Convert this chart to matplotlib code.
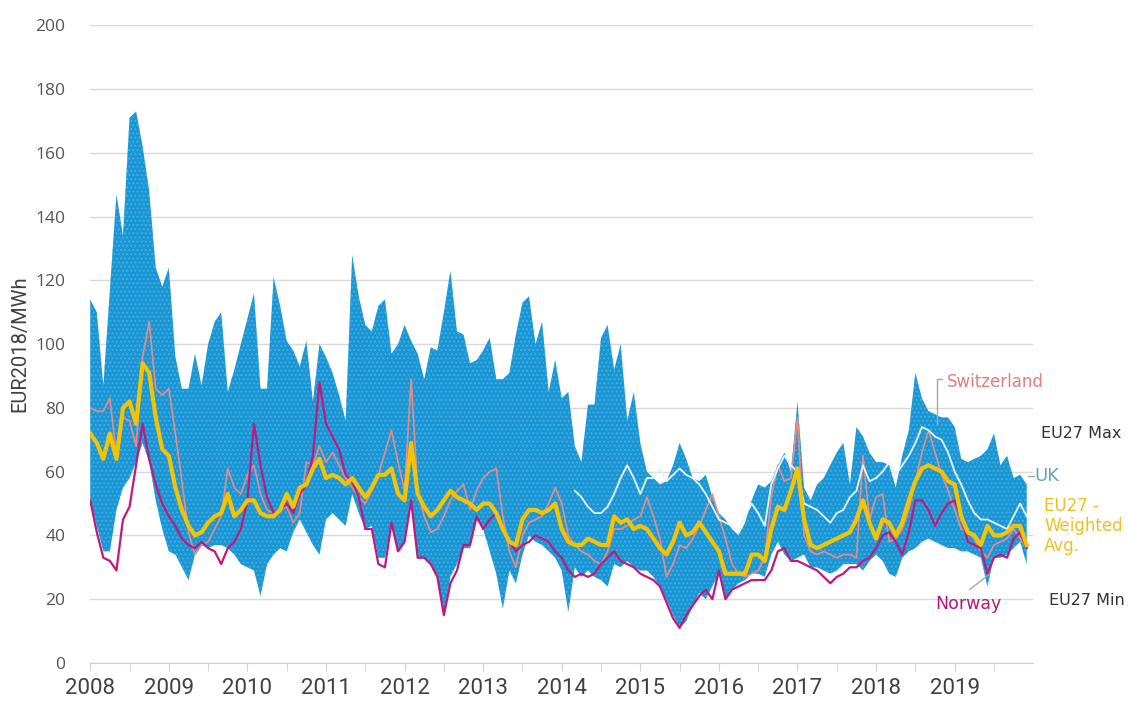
import numpy as np
import matplotlib
matplotlib.use("Agg")
import matplotlib.pyplot as plt
from matplotlib.ticker import MultipleLocator

years = [2008 + i for i in range(12)]
year_labels = [str(y) for y in years]

eu_max = [
    114, 110, 87, 117, 147, 134, 171, 173, 162, 148, 124, 118,
    124, 96, 86, 86, 97, 87, 100, 107, 110, 85, 92, 100,
    108, 116, 86, 86, 121, 112, 101, 98, 93, 101, 82, 100,
    96, 91, 84, 76, 128, 115, 106, 104, 112, 114, 97, 100,
    106, 101, 97, 89, 99, 98, 110, 123, 104, 103, 94, 95,
    98, 102, 89, 89, 91, 103, 113, 115, 100, 107, 85, 95,
    83, 85, 68, 63, 81, 81, 102, 106, 92, 100, 76, 85,
    69, 60, 58, 56, 57, 62, 69, 64, 58, 57, 59, 52,
    47, 45, 42, 40, 44, 51, 56, 55, 57, 62, 66, 60,
    82, 55, 51, 56, 58, 62, 66, 69, 56, 74, 71, 66,
    63, 63, 62, 55, 65, 73, 91, 83, 79, 78, 77, 77,
    74, 64, 63, 64, 65, 67, 72, 62, 65, 58, 59, 56,
]
eu_min = [
    51, 43, 35, 35, 48, 55, 58, 63, 69, 63, 51, 42,
    35, 34, 30, 26, 34, 37, 36, 37, 37, 36, 34, 31,
    30, 29, 21, 31, 34, 36, 35, 41, 45, 41, 37, 34,
    45, 47, 45, 43, 53, 47, 42, 43, 33, 33, 44, 35,
    38, 51, 33, 33, 31, 27, 15, 27, 31, 36, 36, 45,
    42, 35, 28, 17, 29, 25, 34, 40, 38, 37, 35, 33,
    29, 16, 30, 27, 29, 27, 26, 24, 31, 30, 32, 30,
    29, 29, 27, 24, 20, 15, 11, 13, 18, 22, 20, 24,
    28, 20, 23, 25, 26, 28, 28, 27, 34, 38, 34, 32,
    33, 34, 30, 30, 29, 28, 29, 31, 31, 31, 29, 32,
    34, 32, 28, 27, 33, 35, 36, 38, 39, 38, 37, 36,
    36, 35, 35, 34, 33, 24, 33, 33, 34, 36, 38, 31,
]
eu_avg = [
    72, 69, 64, 72, 64, 80, 82, 75, 94, 91, 77, 67,
    65, 55, 48, 43, 40, 41, 44, 46, 47, 53, 46, 48,
    51, 51, 47, 46, 46, 48, 53, 49, 55, 56, 61, 64,
    58, 59, 58, 56, 58, 55, 52, 55, 59, 59, 61, 53,
    51, 69, 53, 49, 46, 48, 51, 54, 52, 51, 50, 48,
    50, 50, 47, 42, 38, 37, 45, 48, 48, 47, 48, 50,
    42, 38, 37, 37, 39, 38, 37, 37, 46, 44, 45, 42,
    43, 42, 39, 36, 34, 38, 44, 40, 41, 44, 41, 38,
    35, 28, 28, 28, 28, 34, 34, 32, 42, 49, 48, 54,
    61, 45, 37, 36, 37, 38, 39, 40, 41, 45, 51, 44,
    39, 45, 44, 40, 44, 51, 57, 61, 62, 61, 60, 57,
    56, 46, 41, 40, 37, 43, 40, 40, 41, 43, 43, 37,
]
switzerland = [
    80, 79, 79, 83, 65, 77, 76, 68, 96, 107, 86, 84,
    86, 72, 57, 41, 34, 37, 38, 42, 46, 61, 55, 53,
    59, 62, 53, 48, 47, 48, 49, 44, 47, 63, 62, 68,
    63, 66, 62, 58, 55, 52, 50, 54, 59, 66, 73, 63,
    54, 89, 54, 46, 41, 42, 46, 51, 54, 56, 48, 54,
    58, 60, 61, 46, 35, 30, 40, 44, 45, 46, 50, 55,
    50, 40, 37, 35, 34, 32, 31, 35, 42, 42, 43, 45,
    46, 52, 46, 39, 27, 31, 37, 36, 39, 43, 48, 53,
    46, 39, 31, 28, 27, 28, 29, 33, 52, 62, 57, 58,
    77, 40, 35, 34, 35, 34, 33, 34, 34, 33, 65, 45,
    52, 53, 38, 39, 42, 48, 57, 66, 73, 66, 59, 54,
    48, 42, 41, 39, 35, 33, 37, 38, 39, 42, 39, 36,
]
norway = [
    51, 41, 33, 32, 29, 45, 49, 62, 75, 64, 56, 50,
    46, 43, 39, 37, 36, 38, 36, 35, 31, 36, 38, 42,
    51, 75, 62, 52, 47, 48, 50, 47, 53, 56, 65, 88,
    75, 71, 67, 59, 57, 52, 42, 42, 31, 30, 44, 35,
    38, 51, 33, 33, 31, 27, 15, 25, 29, 37, 37, 46,
    42, 45, 47, 42, 38, 35, 37, 38, 40, 39, 38, 35,
    33, 29, 27, 28, 27, 28, 31, 33, 35, 32, 31, 30,
    28, 27, 26, 24, 19, 14, 11, 15, 18, 21, 23, 20,
    29, 20, 23, 24, 25, 26, 26, 26, 29, 35, 36, 32,
    32, 31, 30, 29, 27, 25, 27, 28, 30, 30, 32, 33,
    36, 40, 41, 38, 34, 41, 51, 51, 48, 43, 47, 50,
    51, 46, 38, 37, 36, 28, 33, 34, 33, 39, 41, 36,
]
uk = [None] * 74 + [
    54, 52, 49, 47, 47, 49, 53, 58, 62, 58,
    53, 58, 58, 61, 57, 59, 61, 59, 58, 56, 53, 49,
    45, 44, 43, 41, 46, 50, 47, 43, 56, 61, 65, 62,
    60, 50, 49, 48, 46, 44, 47, 48, 52, 54, 62, 57,
    58, 60, 63, 59, 62, 65, 69, 74, 73, 71, 70, 66,
    60, 56, 51, 47, 45, 45, 44, 43, 42, 46, 50, 46,
]

n = len(eu_max)
x = 2008 + np.arange(n) / 12.0
uk_arr = np.array([np.nan if v is None else v for v in uk], dtype=float)

plt.rcParams['hatch.linewidth'] = 0.8
fig = plt.figure(figsize=(11.28, 7.02), dpi=100)
ax = fig.add_axes([0.080, 0.0556, 0.836, 0.9084])

ax.fill_between(x, eu_min, eu_max, facecolor='#1b96d4', edgecolor='#48b0e4',
                hatch='....', linewidth=0, zorder=2)
ax.plot(x, switzerland, color='#ec8a86', lw=1.2, zorder=3)
ax.plot(x, norway, color='#c2187e', lw=1.6, zorder=4)
ax.plot(x, uk_arr, color='#e6f6fb', lw=1.3, zorder=5)
ax.plot(x, eu_avg, color='#f6c300', lw=3.0, zorder=6, solid_joinstyle='round')

ax.set_xlim(2008, 2020)
ax.set_ylim(0, 200)
ax.yaxis.set_major_locator(MultipleLocator(20))
ax.grid(axis='y', color='#d9d9d9', lw=1.0, zorder=0)
ax.set_axisbelow(True)
for s in ['top', 'right', 'left']:
    ax.spines[s].set_visible(False)
ax.spines['bottom'].set_color('#d0d0d0')
ax.spines['bottom'].set_zorder(1)

ax.set_xticks(years)
ax.set_xticklabels(year_labels, family=['Roboto', 'DejaVu Sans'], fontsize=16, color='#404040')
ax.set_xticks([y + 0.5 for y in years], minor=True)
ax.tick_params(axis='x', which='both', direction='out', length=6, color='#d0d0d0', pad=5)
ax.tick_params(axis='y', length=0, pad=18, labelsize=12.5, labelcolor='#555555')
for lab in ax.get_yticklabels():
    lab.set_family(['Open Sans', 'DejaVu Sans'])
ax.set_ylabel('EUR2018/MWh', family=['Roboto', 'DejaVu Sans'], fontsize=14.5, color='#404040', labelpad=4)

# annotations
ax.text(2018.90, 88, 'Switzerland', color='#e07f7f', fontsize=12, va='center', ha='left', clip_on=False)
ax.plot([2018.77, 2018.77, 2018.84], [75, 89, 89], color='#a8a8a8', lw=1, clip_on=False, zorder=7)
ax.text(2020.10, 72, 'EU27 Max', color='#333333', fontsize=11.5, va='center', ha='left', clip_on=False)
ax.plot([2019.93, 2020.01], [58.5, 58.5], color='#a8a8a8', lw=1, clip_on=False)
ax.text(2020.02, 58.5, 'UK', color='#6aa6b6', fontsize=13, va='center', ha='left', clip_on=False)
ax.text(2020.14, 43, 'EU27 -\nWeighted\nAvg.', color='#f0c020', fontsize=12, va='center', ha='left',
        linespacing=1.15, clip_on=False)
ax.text(2020.20, 19.5, 'EU27 Min', color='#333333', fontsize=11.5, va='center', ha='left', clip_on=False)
ax.text(2019.17, 18.5, 'Norway', color='#b5167a', fontsize=12.5, va='center', ha='center', clip_on=False)
ax.plot([2019.19, 2019.44], [23, 27.8], color='#a8a8a8', lw=1, zorder=7)

fig.savefig('out.png', dpi=100)
